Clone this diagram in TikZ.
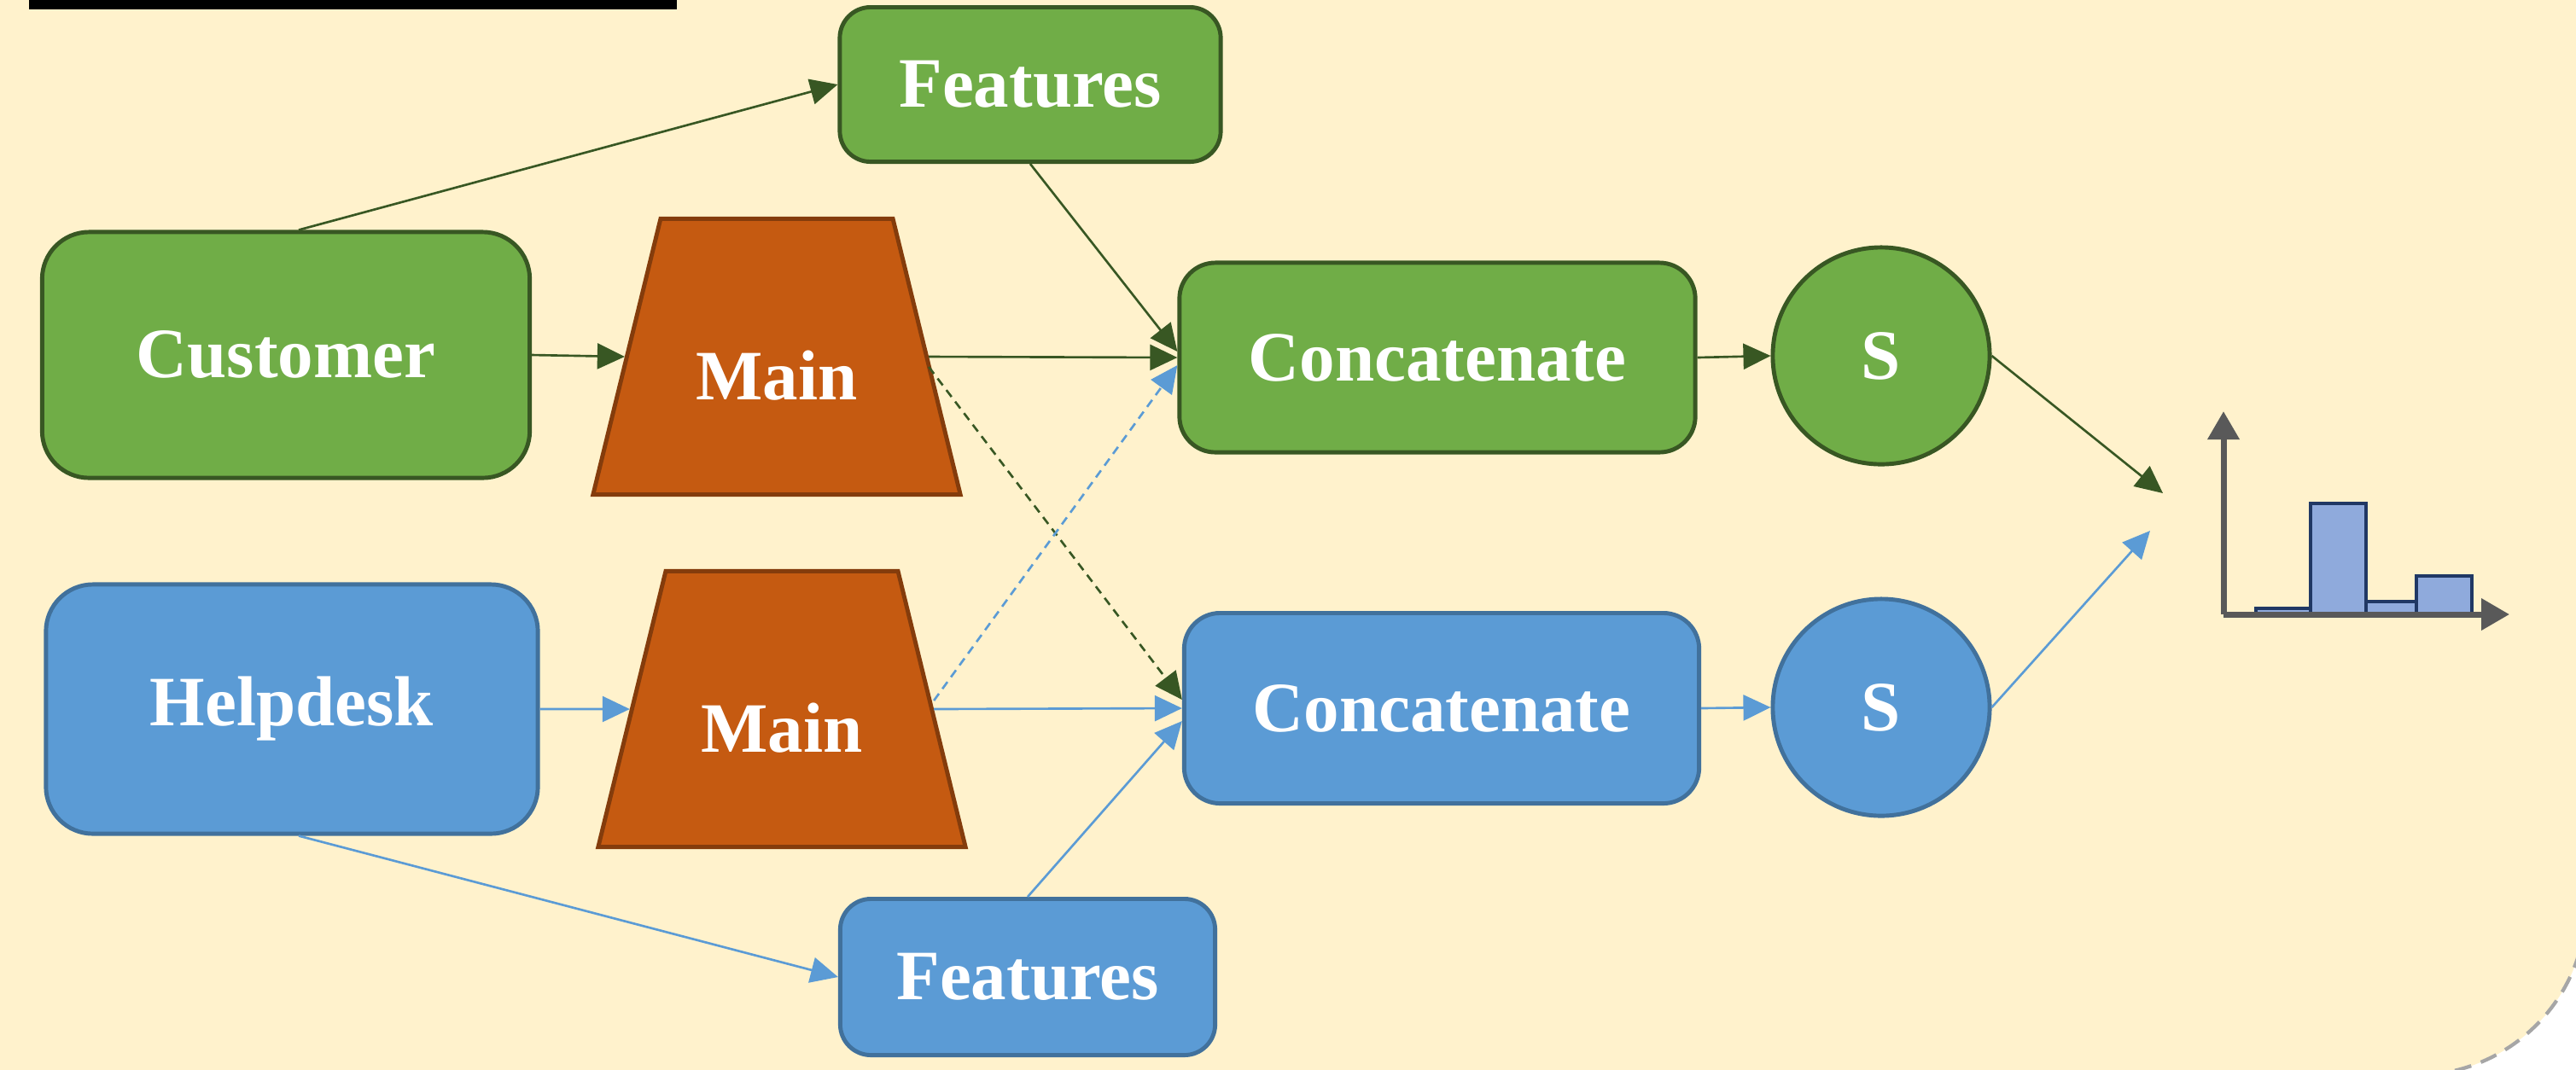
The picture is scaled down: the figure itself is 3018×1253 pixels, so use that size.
\documentclass[tikz,border=0pt]{standalone}
\usepackage{fontspec}
\setmainfont{Liberation Serif}
\usetikzlibrary{shapes.geometric,arrows.meta}
\definecolor{cream}{HTML}{FFF2CC}
\definecolor{grnfill}{HTML}{70AD47}
\definecolor{grnline}{HTML}{385723}
\definecolor{blufill}{HTML}{5B9BD5}
\definecolor{bluline}{HTML}{41719C}
\definecolor{orgfill}{HTML}{C55A11}
\definecolor{orgline}{HTML}{843C0C}
\definecolor{barfill}{HTML}{8FAADC}
\definecolor{barline}{HTML}{203864}
\definecolor{axisgray}{HTML}{595959}
\definecolor{framegray}{HTML}{A6A6A6}

\begin{document}
\begin{tikzpicture}[x=0.01cm,y=-0.01cm,
    lbl/.style={text=white,font=\bfseries\fontsize{23.6}{28}\selectfont},
    box/.style={lbl,rectangle,rounded corners=0.55cm,line width=1.4pt,inner sep=0pt},
    grn/.style={fill=grnfill,draw=grnline},
    blu/.style={fill=blufill,draw=bluline},
    mainbox/.style={lbl,trapezium,trapezium angle=76.25,fill=orgfill,draw=orgline,
        line width=1.4pt,inner sep=0pt,text width=2.72cm,align=center,
        text height=2.115cm,text depth=1.115cm},
    sbox/.style={lbl,circle,minimum size=2.54cm,line width=1.4pt,inner sep=0pt},
    garrow/.style={-{Triangle[length=0.32cm,width=0.3cm]},draw=grnline,line width=0.75pt},
    barrow/.style={-{Triangle[length=0.32cm,width=0.3cm]},draw=blufill,line width=0.75pt},
    crossline/.style={dash pattern=on 0.1cm off 0.07cm},
    histbar/.style={fill=barfill,draw=barline,line width=1.2pt},
    histaxis/.style={axisgray,line width=2pt,-{Triangle[length=0.33cm,width=0.36cm]}}
]
    \useasboundingbox (0,0) rectangle (3018,1253);
    % background
    \begin{scope}
        \clip (0,0) rectangle (3018,1253);
        \draw[fill=cream,draw=framegray,line width=1.2pt,dash pattern=on 0.2cm off 0.12cm,
            rounded corners=2cm] (-300,-300) rectangle (3030,1260);
        \fill[black] (34,-10) rectangle (793,11);
    \end{scope}
    % inputs
    \node[box,grn,minimum width=5.71cm,minimum height=2.88cm] (cust) at (335,416) {Customer};
    \node[box,blu,minimum width=5.76cm,minimum height=2.92cm] (help) at (342,831) {Helpdesk};
    \node[box,grn,rounded corners=0.36cm,minimum width=4.46cm,minimum height=1.81cm] (feattop) at (1207,99) {Features};
    \node[box,blu,rounded corners=0.36cm,minimum width=4.39cm,minimum height=1.83cm] (featbot) at (1204,1145) {Features};
    % encoders
    \node[mainbox] (maintop) at (910,418) {Main};
    \node[mainbox] (mainbot) at (916,831) {Main};
    % fusion
    \node[box,grn,rounded corners=0.42cm,minimum width=6.04cm,minimum height=2.22cm] (cattop) at (1684,419) {Concatenate};
    \node[box,blu,rounded corners=0.42cm,minimum width=6.03cm,minimum height=2.23cm] (catbot) at (1689,830) {Concatenate};
    \node[sbox,grn] (stop) at (2204,417) {S};
    \node[sbox,blu] (sbot) at (2204,829) {S};
    \coordinate (gin) at (2534,578);
    \coordinate (bin) at (2519,622);
    % arrows
    \draw[garrow] ([xshift=0.15cm]cust.north) -- (feattop.west);
    \draw[garrow] (cust.east) -- (maintop.west);
    \draw[garrow] (maintop.east) -- (cattop.west);
    \draw[garrow] (feattop.south) -- ([yshift=0.07cm]cattop.west);
    \draw[garrow,crossline] ([yshift=-0.12cm]maintop.east) -- ([yshift=0.1cm]catbot.west);
    \draw[barrow] ([xshift=0.08cm]help.south) -- (featbot.west);
    \draw[barrow] (help.east) -- (mainbot.west);
    \draw[barrow] (mainbot.east) -- (catbot.west);
    \draw[barrow] (featbot.north) -- ([yshift=-0.15cm]catbot.west);
    \draw[barrow,crossline] ([yshift=0.1cm]mainbot.east) -- ([yshift=-0.09cm]cattop.west);
    \draw[garrow] (cattop.east) -- (stop.west);
    \draw[barrow] (catbot.east) -- (sbot.west);
    \draw[garrow] (stop.east) -- (gin);
    \draw[barrow] (sbot.east) -- (bin);
    % histogram
    \draw[histbar] (2643,713) rectangle (2707,720);
    \draw[histbar] (2707,590) rectangle (2772,720);
    \draw[histbar] (2772,705) rectangle (2831,720);
    \draw[histbar] (2831,675) rectangle (2896,720);
    \draw[histaxis] (2605,720) -- (2605,482);
    \draw[histaxis] (2605,720) -- (2940,720);
\end{tikzpicture}
\end{document}
